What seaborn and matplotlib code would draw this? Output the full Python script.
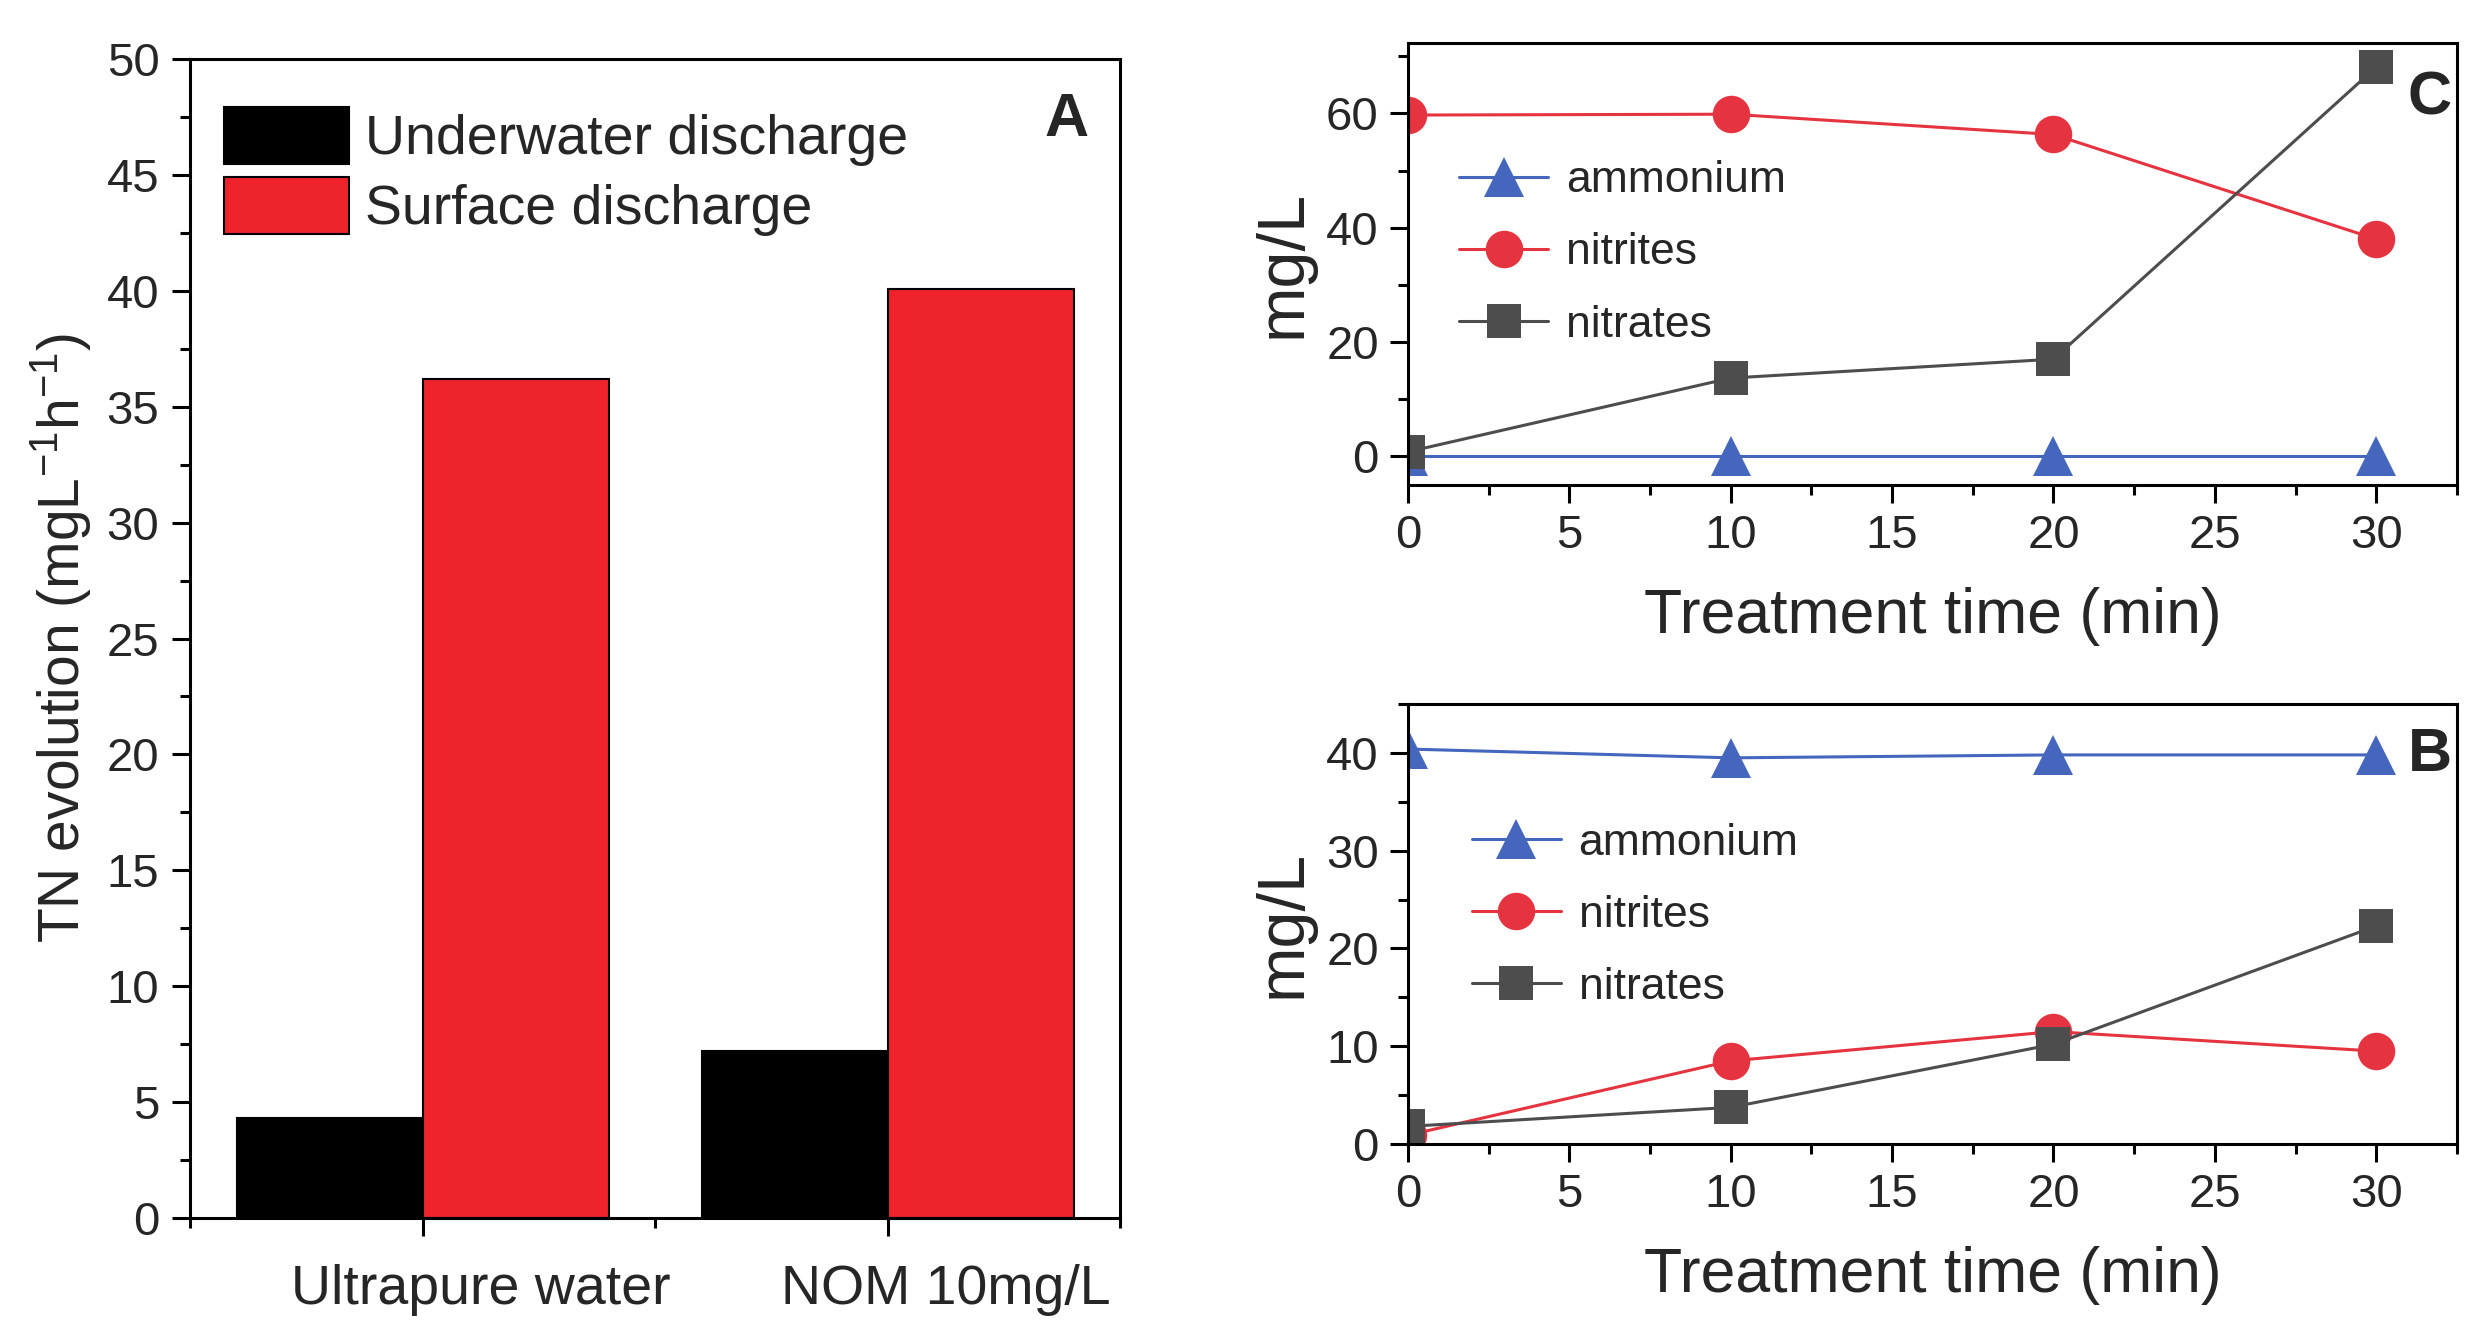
import pandas as pd
import matplotlib.pyplot as plt
import matplotlib.transforms as mtransforms
import seaborn as sns
from matplotlib.patches import Patch
from matplotlib.ticker import MultipleLocator

# panel A data
samples = ["Ultrapure water", "NOM 10mg/L"]
modes = ["Underwater discharge", "Surface discharge"]
underwater = [4.32, 7.22]
surface = [36.2, 40.06]

# panels B / C data
time_min = [0, 10, 20, 30]
c_ammonium = [0, 0, 0, 0]
c_nitrites = [59.7, 59.85, 56.3, 38.0]
c_nitrates = [0.8, 13.7, 17.0, 68.1]
b_ammonium = [40.4, 39.5, 39.8, 39.8]
b_nitrites = [0.9, 8.5, 11.5, 9.5]
b_nitrates = [1.8, 3.75, 10.2, 22.3]

sns.set_theme(style="ticks")
plt.rcParams["font.family"] = ["Liberation Sans", "DejaVu Sans"]
plt.rcParams["mathtext.fontset"] = "custom"
plt.rcParams["mathtext.rm"] = "Liberation Sans"
plt.rcParams["mathtext.it"] = "Liberation Sans:italic"

BLUE = "#4466bd"
RED = "#e53340"
GREY = "#4d4d4d"
BAR_RED = "#ee232b"

fig = plt.figure(figsize=(24.84, 13.36), dpi=100)
axA = fig.add_axes([0.0765, 0.0883, 0.3744, 0.8675])
axC = fig.add_axes([0.5668, 0.637, 0.4223, 0.3308])
axB = fig.add_axes([0.5668, 0.1437, 0.4223, 0.3293])


def style_axes(ax):
    for sp in ax.spines.values():
        sp.set_visible(True)
        sp.set_linewidth(2.2)
        sp.set_color("black")
    ax.tick_params(which="major", direction="out", length=13, width=2.2, color="black")
    ax.tick_params(which="minor", direction="out", length=7, width=2.2, color="black")
    ax.tick_params(top=False, right=False, which="both")


# ---- panel A ----
df = pd.DataFrame({
    "Sample": samples * 2,
    "Mode": [modes[0]] * 2 + [modes[1]] * 2,
    "Value": underwater + surface,
})
sns.barplot(data=df, x="Sample", y="Value", hue="Mode", hue_order=modes,
            palette=["black", BAR_RED], saturation=1, edgecolor="black",
            linewidth=1.5, width=0.8, legend=False, ax=axA)
axA.set_xlim(-0.5, 1.5)
axA.set_ylim(0, 50)
axA.yaxis.set_major_locator(MultipleLocator(5))
axA.yaxis.set_minor_locator(MultipleLocator(2.5))
axA.xaxis.set_minor_locator(MultipleLocator(0.5))
style_axes(axA)
axA.tick_params(axis="y", labelsize=34, pad=9)
axA.tick_params(axis="x", which="major", labelsize=40, pad=20)
# category labels sit a bit right of their ticks in the original
shift = mtransforms.ScaledTranslation(0.58, 0, fig.dpi_scale_trans)
for lab in axA.get_xticklabels():
    lab.set_transform(lab.get_transform() + shift)
axA.set_xlabel("")
axA.set_ylabel("TN evolution (mgL$^{-1}$h$^{-1}$)", fontsize=41, labelpad=10)
handles = [Patch(facecolor="black", edgecolor="black", linewidth=1.5),
           Patch(facecolor=BAR_RED, edgecolor="black", linewidth=1.5)]
axA.legend(handles, modes, loc="center left", bbox_to_anchor=(0.036, 0.903),
           frameon=False, fontsize=40, handlelength=2.25, handleheight=1.2,
           handletextpad=0.3, labelspacing=0.2, borderpad=0, borderaxespad=0)
axA.text(0.943, 0.947, "A", transform=axA.transAxes, fontsize=44,
         fontweight="bold", ha="center", va="center")


# ---- panels B and C ----
def line_panel(ax, amm, nitri, nitra, ylim, major, minor, leg_xy, letter_y, letter):
    sns.lineplot(x=time_min, y=amm, ax=ax, color=BLUE, marker="^", markersize=29,
                 markeredgewidth=0, linewidth=2.2, label="ammonium")
    sns.lineplot(x=time_min, y=nitri, ax=ax, color=RED, marker="o", markersize=27,
                 markeredgewidth=0, linewidth=2.2, label="nitrites")
    sns.lineplot(x=time_min, y=nitra, ax=ax, color=GREY, marker="s", markersize=24,
                 markeredgewidth=0, linewidth=2.2, label="nitrates")
    ax.set_xlim(0, 32.5)
    ax.set_ylim(*ylim)
    ax.xaxis.set_major_locator(MultipleLocator(5))
    ax.xaxis.set_minor_locator(MultipleLocator(2.5))
    ax.yaxis.set_major_locator(MultipleLocator(major))
    ax.yaxis.set_minor_locator(MultipleLocator(minor))
    style_axes(ax)
    ax.tick_params(axis="both", labelsize=34, pad=8)
    ax.set_xlabel("Treatment time (min)", fontsize=45, labelpad=21)
    ax.set_ylabel("mg/L", fontsize=48, labelpad=8)
    ax.legend(loc="center left", bbox_to_anchor=leg_xy, frameon=False,
              fontsize=32, handlelength=2.0, handletextpad=0.4, labelspacing=0.7,
              borderpad=0, borderaxespad=0)
    ax.text(0.974, letter_y, letter, transform=ax.transAxes, fontsize=44,
            fontweight="bold", ha="center", va="center")


line_panel(axC, c_ammonium, c_nitrites, c_nitrates, (-5, 72.3), 20, 10,
           (0.049, 0.525), 0.873, "C")
line_panel(axB, b_ammonium, b_nitrites, b_nitrates, (0, 45), 10, 5,
           (0.061, 0.52), 0.884, "B")

fig.savefig("out.png", dpi=100)
